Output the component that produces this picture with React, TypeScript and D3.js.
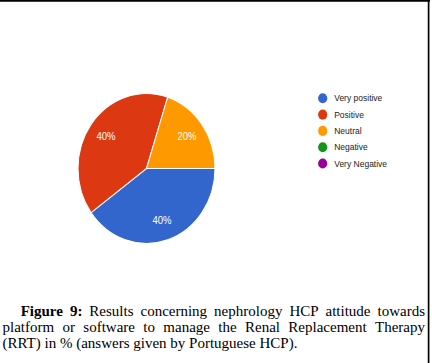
import React, { useEffect, useRef } from "react";
import * as d3 from "d3";

const categories = ["Very positive", "Positive", "Neutral", "Negative", "Very Negative"];
const values = [40, 40, 20, 0, 0];
const colors = ["#3366cc", "#dc3912", "#ff9900", "#109618", "#990099"];
const captionLines = [
  "Figure 9: Results concerning nephrology HCP attitude towards",
  "platform or software to manage the Renal Replacement Therapy",
  "(RRT) in % (answers given by Portuguese HCP).",
];

const width = 432;
const height = 363;
// the chart image in the figure is stretched a bit vertically
const stretch = 1.095;

export default function App() {
  const ref = useRef<SVGSVGElement>(null);

  useEffect(() => {
    const svg = d3.select(ref.current);
    svg.selectAll("*").remove();

    svg.append("rect").attr("width", width).attr("height", height).attr("fill", "#fff");

    // frame (top and right edges only visible)
    svg.append("line").attr("x1", 0).attr("x2", 430).attr("y1", 0.8).attr("y2", 0.8)
      .attr("stroke", "#000").attr("stroke-width", 1.7);
    svg.append("line").attr("x1", 428.6).attr("x2", 428.6).attr("y1", 0).attr("y2", height)
      .attr("stroke", "#000").attr("stroke-width", 1.7);

    const chart = svg.append("g").attr("transform", `scale(1,${stretch})`);

    const cx = 146.5;
    const cy = 168.5 / stretch;
    const r = 68.5;

    const pie = d3.pie<number>()
      .sort(null)
      .startAngle(Math.PI / 2)
      .endAngle(Math.PI / 2 + Math.PI * 2)
      .value((d) => d);
    const arcs = pie(values);

    const arc = d3.arc<d3.PieArcDatum<number>>().innerRadius(0).outerRadius(r);
    const labelArc = d3.arc<d3.PieArcDatum<number>>().innerRadius(r * 0.73).outerRadius(r * 0.73);

    const g = chart.append("g").attr("transform", `translate(${cx},${cy})`);
    g.selectAll("path")
      .data(arcs.filter((d) => d.value > 0))
      .enter()
      .append("path")
      .attr("d", arc)
      .attr("fill", (d) => colors[d.index])
      .attr("stroke", "#fff")
      .attr("stroke-width", 1);

    const total = d3.sum(values);
    g.selectAll("text")
      .data(arcs.filter((d) => d.value > 0))
      .enter()
      .append("text")
      .attr("transform", (d) => {
        const [x, y] = labelArc.centroid(d);
        return `translate(${x},${y})`;
      })
      .attr("text-anchor", "middle")
      .attr("dominant-baseline", "central")
      .attr("font-family", "Arial, 'Liberation Sans', sans-serif")
      .attr("font-size", 9.5)
      .attr("fill", "#fff")
      .text((d) => `${Math.round((d.value / total) * 100)}%`);

    const legend = chart.append("g");
    const ly = d3.scaleLinear().domain([0, 1]).range([98.3 / stretch, 114.6 / stretch]);
    const items = legend.selectAll("g")
      .data(categories)
      .enter()
      .append("g")
      .attr("transform", (_, i) => `translate(322.7,${ly(i)})`);
    items.append("circle").attr("r", 4.6).attr("fill", (_, i) => colors[i]);
    items.append("text")
      .attr("x", 11.5)
      .attr("dominant-baseline", "central")
      .attr("font-family", "Arial, 'Liberation Sans', sans-serif")
      .attr("font-size", 8.5)
      .attr("fill", "#222")
      .text((d) => d);

    // caption, justified by hand
    const left = 2.5;
    const right = 425;
    const fs = 15;
    const baselines = [316.3, 332.2, 347.5];
    captionLines.forEach((line, li) => {
      const words = line.split(" ");
      const x0 = li === 0 ? 20.7 : left;
      const nodes = words.map((w, wi) =>
        svg.append("text")
          .attr("y", baselines[li])
          .attr("font-family", "'Liberation Serif', 'Times New Roman', serif")
          .attr("font-size", fs)
          .attr("fill", "#000")
          .attr("font-weight", li === 0 && wi < 2 ? "bold" : "normal")
          .text(w)
      );
      const widths = nodes.map((n) => (n.node() as SVGTextElement).getComputedTextLength());
      const justify = li < captionLines.length - 1;
      const space = fs * 0.25;
      const gap = justify ? (right - x0 - d3.sum(widths)) / (words.length - 1) : space;
      let x = x0;
      nodes.forEach((n, i) => {
        n.attr("x", x);
        x += widths[i] + gap;
      });
    });
  }, []);

  return (
    <svg
      ref={ref}
      width={width}
      height={height}
      style={{ position: "absolute", left: 0, top: 0, display: "block" }}
    />
  );
}
